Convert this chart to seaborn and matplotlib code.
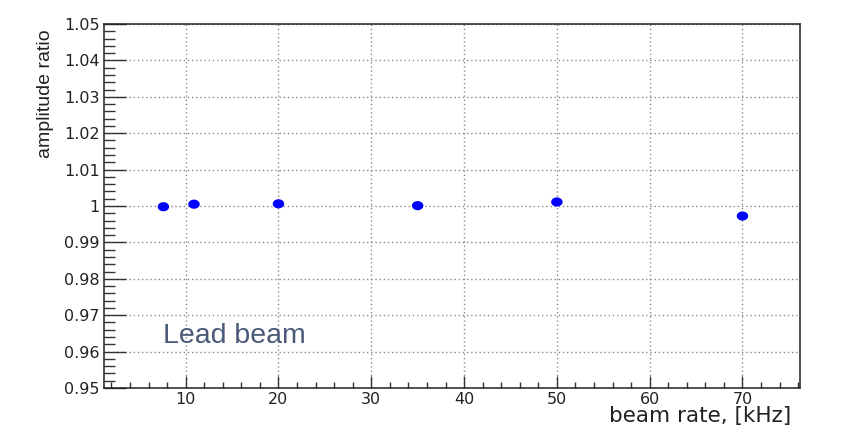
import matplotlib
matplotlib.use("Agg")
import numpy as np
import pandas as pd
import matplotlib.pyplot as plt
import seaborn as sns
from matplotlib.path import Path
from matplotlib.ticker import MultipleLocator, FuncFormatter

# ---- data ----
beam_rate = [7.6, 10.9, 20.0, 35.0, 50.0, 70.0]
amp_ratio = [0.9998, 1.0005, 1.0006, 1.0001, 1.0011, 0.99725]
x_label = "beam rate, [kHz]"
y_label = "amplitude ratio"
annotation = "Lead beam"

df = pd.DataFrame({"rate": beam_rate, "ratio": amp_ratio})

sns.set_style("white")
plt.rcParams["font.family"] = ["DejaVu Sans"]

fig = plt.figure(figsize=(8.55, 4.40), dpi=100)
W, H = 855, 440
ax = fig.add_axes([104 / W, 1 - 388 / H, 696 / W, 364 / H])

# ellipse marker (slightly wider than tall)
t = np.linspace(0, 2 * np.pi, 48)
ell = Path(np.column_stack([1.25 * np.cos(t), np.sin(t)]), closed=True)

sns.scatterplot(data=df, x="rate", y="ratio", ax=ax, marker=ell, s=68,
                color="#0000ff", edgecolor="none", linewidth=0, zorder=5)

ax.set_xlim(1.2, 76.2)
ax.set_ylim(0.95, 1.05)

ax.xaxis.set_major_locator(MultipleLocator(10))
ax.xaxis.set_minor_locator(MultipleLocator(2))
ax.yaxis.set_major_locator(MultipleLocator(0.01))
ax.yaxis.set_minor_locator(MultipleLocator(0.002))
ax.yaxis.set_major_formatter(FuncFormatter(lambda v, p: "%g" % round(v, 4)))
ax.xaxis.set_major_formatter(FuncFormatter(lambda v, p: "%g" % round(v, 4)))

px = 72 / 100
ax.tick_params(axis="y", which="major", direction="in", length=22 * px, width=1,
               color="#333333", labelsize=11.5, pad=3, left=True, right=False)
ax.tick_params(axis="y", which="minor", direction="in", length=11 * px, width=1,
               color="#333333", left=True, right=False)
ax.tick_params(axis="x", which="major", direction="in", length=12 * px, width=1,
               color="#333333", labelsize=11.5, pad=3, bottom=True, top=False)
ax.tick_params(axis="x", which="minor", direction="in", length=6 * px, width=1,
               color="#333333", bottom=True, top=False)
for lab in ax.get_xticklabels() + ax.get_yticklabels():
    lab.set_color("#222222")

ax.grid(True, which="major", color="#8a8a8a", linestyle=(0, (1, 2)), linewidth=1.0)
ax.set_axisbelow(True)

for s in ax.spines.values():
    s.set_visible(True)
    s.set_color("#222222")
    s.set_linewidth(1.1)

ax.set_xlabel(x_label, fontsize=15.5, loc="right", color="#222222")
ax.xaxis.set_label_coords((791 - 104) / 696, -(406 - 388) / 364)
ax.set_ylabel(y_label, fontsize=14, loc="top", color="#222222",
              family=["Liberation Sans"])
ax.yaxis.set_label_coords((54 - 104) / 696, (388 - 29) / 364)

ax.text(7.55, 0.9624, annotation, fontsize=20.5, color="#4a5a78",
        family=["Liberation Sans"], va="baseline", ha="left")

fig.savefig("out.png", dpi=100)
